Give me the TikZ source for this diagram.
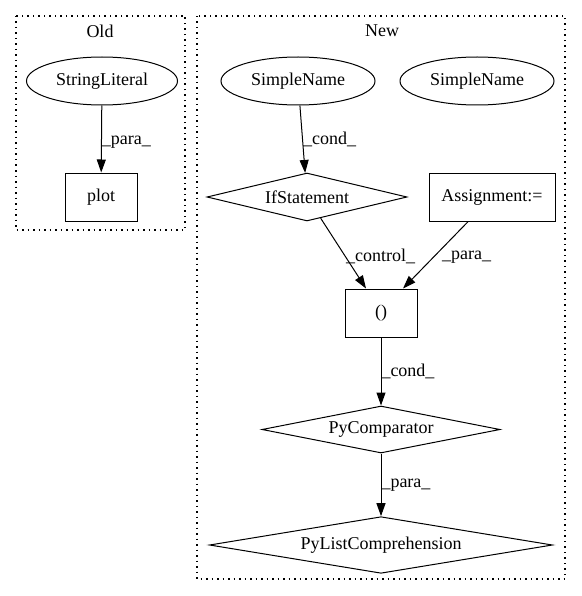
\documentclass[tikz,border=0pt]{standalone}
\usepackage{fontspec}
\setmainfont{Liberation Serif}
\usetikzlibrary{shapes.geometric,arrows.meta}
\begin{document}
\begin{tikzpicture}[x=1pt,y=-1pt,
  every node/.style={font=\fontsize{18}{20}\selectfont, line width=1pt},
  ell/.style={draw, ellipse, inner sep=0pt, minimum height=48pt},
  box/.style={draw, rectangle, inner sep=0pt, minimum height=48pt},
  dia/.style={draw, diamond, inner sep=0pt, aspect=4},
  cluster/.style={draw, line width=1.1pt, dash pattern=on 1.5pt off 4pt},
  edge/.style={line width=1pt, -{Triangle[length=13pt,width=9pt]}},
  lab/.style={anchor=west, inner sep=0pt, font=\fontsize{18}{20}\selectfont}]
\useasboundingbox (0,0) rectangle (581,596);
% clusters
\draw[cluster] (16,16) rectangle (185,230);
\node (oldlab) at (100,31) {Old};
\draw[cluster] (197,16) rectangle (565,579);
\node (newlab) at (382,31) {New};
% Old
\node[ell, minimum width=151pt] (sl) at (102,81) {StringLiteral};
\node[box, minimum width=72pt] (plot) at (101,197) {plot};
\draw[edge] (sl) -- node[lab, pos=0.55] {\_para\_} (plot);
% New
\node[ell, minimum width=154pt] (sn1) at (298,81) {SimpleName};
\node[ell, minimum width=154pt] (sn2) at (477,81) {SimpleName};
\node[dia, minimum width=200pt, minimum height=48pt] (ifs) at (307,197) {IfStatement};
\node[box, minimum width=126pt] (asg) at (492,197) {Assignment:=};
\node[box, minimum width=72pt] (par) at (381,313) {()};
\node[dia, minimum width=238pt, minimum height=47pt] (pyc) at (381,429.5) {PyComparator};
\node[dia, minimum width=343pt, minimum height=46pt] (plc) at (381,545) {PyListComprehension};
\draw[edge] (sn1) -- node[lab, pos=0.5] {\_cond\_} (ifs);
\draw[edge] (ifs) -- node[lab, pos=0.55] {\_control\_} ([xshift=-15pt]par.north);
\draw[edge] (asg) -- node[lab, pos=0.53, xshift=8pt] {\_para\_} ([xshift=22pt]par.north);
\draw[edge] (par) -- node[lab, pos=0.5] {\_cond\_} (pyc);
\draw[edge] (pyc) -- node[lab, pos=0.5] {\_para\_} (plc);
\end{tikzpicture}
\end{document}
